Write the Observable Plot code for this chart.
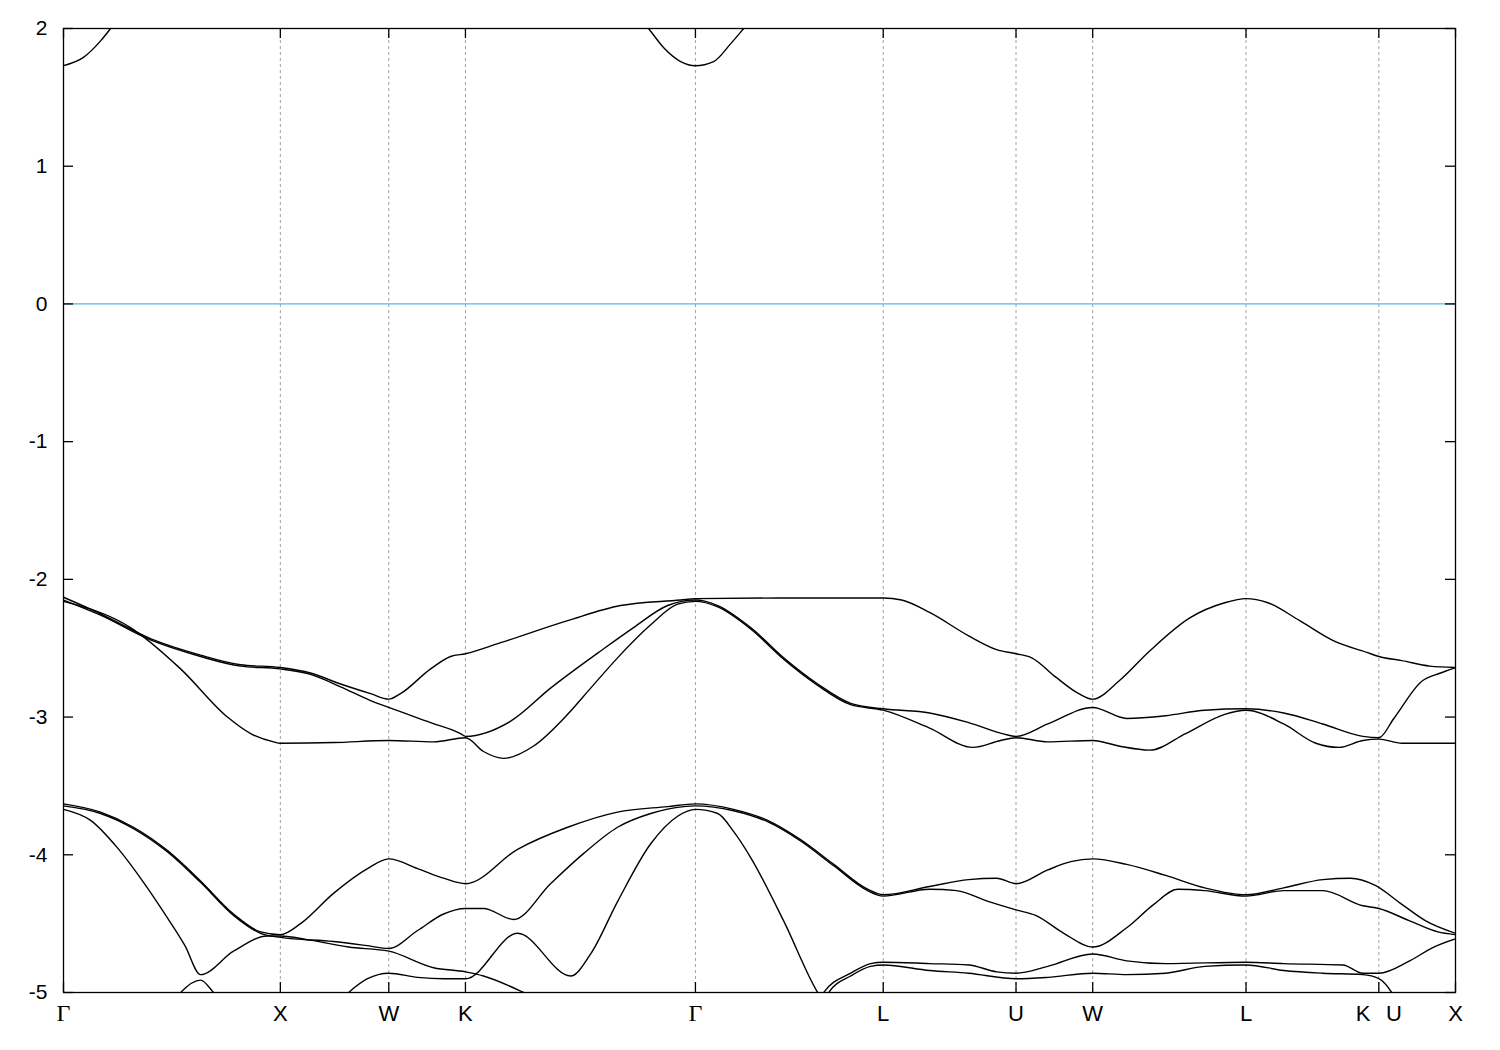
<!DOCTYPE html>
<html><head><meta charset="utf-8">
<script src="https://cdn.jsdelivr.net/npm/d3@7"></script>
<script src="https://cdn.jsdelivr.net/npm/@observablehq/plot@0.6"></script>
<style>body{margin:0;background:#fff}</style>
</head><body><div id="chart"></div>
<script>
// High-symmetry path positions (k) and labels
const kTicks = [0, 1.0, 1.5, 1.8536, 2.9142, 3.7802, 4.3926, 4.7462, 5.4533, 6.0657, 6.4193];
const kLabels = ["Γ", "X", "W", "K", "Γ", "L", "U", "W", "L", "K\u2002\u2009U", "X"];
const eTicks = [2, 1, 0, -1, -2, -3, -4, -5];

// Bands: [k, E (eV)]
const cond1 = [[0,1.73],[0.092,1.79],[0.171,1.91],[0.217,2.0],[0.26,2.09]];
const cond2 = [[2.65,2.09],[2.698,2.0],[2.768,1.86],[2.846,1.76],[2.914,1.73],[2.998,1.76],[3.077,1.89],[3.137,2.0],[3.18,2.08]];

const band1 = [[0,-2.13],[0.171,-2.25],[0.401,-2.43],[0.632,-2.55],[0.816,-2.62],[1.0,-2.64],[1.139,-2.68],[1.278,-2.76],[1.416,-2.83],[1.5,-2.87],[1.554,-2.83],[1.693,-2.65],[1.785,-2.56],[1.854,-2.54],[2.016,-2.46],[2.325,-2.30],[2.569,-2.19],[2.846,-2.15],[2.914,-2.14],[3.3,-2.135],[3.78,-2.135],[3.865,-2.15],[3.994,-2.24],[4.174,-2.41],[4.303,-2.51],[4.393,-2.54],[4.465,-2.57],[4.576,-2.71],[4.682,-2.83],[4.746,-2.87],[4.866,-2.74],[5.009,-2.52],[5.194,-2.28],[5.355,-2.17],[5.453,-2.14],[5.554,-2.17],[5.701,-2.30],[5.863,-2.45],[6.010,-2.53],[6.066,-2.56],[6.172,-2.59],[6.301,-2.63],[6.419,-2.64]];
const band2 = [[0,-2.15],[0.171,-2.26],[0.401,-2.44],[0.632,-2.56],[0.816,-2.63],[1.0,-2.65],[1.139,-2.69],[1.278,-2.78],[1.416,-2.88],[1.5,-2.93],[1.693,-3.04],[1.831,-3.12],[1.854,-3.14],[2.062,-3.03],[2.246,-2.79],[2.477,-2.52],[2.629,-2.35],[2.786,-2.19],[2.914,-2.15],[3.017,-2.19],[3.169,-2.35],[3.321,-2.57],[3.478,-2.76],[3.630,-2.90],[3.78,-2.94],[3.994,-2.97],[4.174,-3.04],[4.354,-3.13],[4.393,-3.14],[4.539,-3.05],[4.746,-2.93],[4.903,-3.01],[5.083,-2.99],[5.263,-2.95],[5.453,-2.94],[5.627,-2.97],[5.807,-3.05],[5.992,-3.14],[6.066,-3.15],[6.135,-3.01],[6.264,-2.74],[6.351,-2.68],[6.419,-2.64]];
const band3 = [[0,-2.16],[0.309,-2.35],[0.540,-2.65],[0.756,-3.0],[0.863,-3.12],[0.969,-3.18],[1.0,-3.19],[1.25,-3.185],[1.5,-3.17],[1.707,-3.18],[1.854,-3.15],[1.937,-3.25],[2.030,-3.30],[2.168,-3.21],[2.325,-2.98],[2.431,-2.79],[2.555,-2.57],[2.708,-2.33],[2.832,-2.18],[2.914,-2.16],[3.017,-2.20],[3.169,-2.36],[3.321,-2.58],[3.478,-2.77],[3.630,-2.91],[3.78,-2.95],[3.994,-3.08],[4.193,-3.22],[4.322,-3.17],[4.393,-3.15],[4.539,-3.18],[4.746,-3.17],[4.866,-3.21],[5.009,-3.24],[5.175,-3.12],[5.355,-2.98],[5.453,-2.95],[5.627,-3.05],[5.775,-3.19],[5.881,-3.22],[5.992,-3.17],[6.066,-3.16],[6.172,-3.19],[6.282,-3.19],[6.419,-3.19]];

const band4 = [[0,-3.63],[0.171,-3.69],[0.323,-3.80],[0.480,-3.97],[0.632,-4.19],[0.784,-4.43],[0.909,-4.56],[1.0,-4.58],[1.093,-4.50],[1.245,-4.28],[1.402,-4.10],[1.5,-4.03],[1.633,-4.10],[1.753,-4.17],[1.854,-4.21],[2.094,-3.96],[2.325,-3.80],[2.555,-3.69],[2.786,-3.65],[2.914,-3.63],[3.090,-3.67],[3.247,-3.75],[3.399,-3.89],[3.552,-4.07],[3.708,-4.25],[3.78,-4.29],[3.994,-4.23],[4.174,-4.18],[4.303,-4.17],[4.393,-4.21],[4.539,-4.11],[4.645,-4.05],[4.746,-4.03],[4.903,-4.07],[5.083,-4.15],[5.263,-4.24],[5.453,-4.29],[5.627,-4.24],[5.807,-4.18],[5.936,-4.17],[6.047,-4.22],[6.172,-4.36],[6.282,-4.48],[6.419,-4.57]];
const band5 = [[0,-3.645],[0.171,-3.70],[0.323,-3.81],[0.480,-3.98],[0.632,-4.20],[0.784,-4.44],[0.909,-4.57],[1.0,-4.60],[1.245,-4.63],[1.402,-4.66],[1.5,-4.68],[1.633,-4.55],[1.753,-4.43],[1.854,-4.39],[1.937,-4.39],[2.076,-4.47],[2.246,-4.21],[2.399,-3.99],[2.555,-3.80],[2.708,-3.70],[2.860,-3.65],[2.914,-3.645],[3.090,-3.68],[3.247,-3.76],[3.399,-3.90],[3.552,-4.08],[3.708,-4.26],[3.78,-4.30],[3.994,-4.25],[4.119,-4.26],[4.267,-4.34],[4.393,-4.40],[4.483,-4.44],[4.613,-4.57],[4.746,-4.67],[4.903,-4.53],[5.028,-4.36],[5.138,-4.25],[5.263,-4.26],[5.453,-4.30],[5.627,-4.26],[5.807,-4.26],[5.992,-4.37],[6.066,-4.39],[6.208,-4.48],[6.338,-4.56],[6.419,-4.58]];
const band6 = [[0,-3.67],[0.125,-3.75],[0.249,-3.95],[0.369,-4.20],[0.480,-4.46],[0.560,-4.66],[0.632,-4.87],[0.784,-4.70],[0.941,-4.59],[1.0,-4.59],[1.139,-4.62],[1.315,-4.67],[1.5,-4.70],[1.707,-4.82],[1.854,-4.85],[1.937,-4.88],[2.122,-5.0],[2.25,-5.1]];
const band7 = [[0.49,-5.1],[0.540,-5.0],[0.632,-4.91],[0.692,-5.0],[0.75,-5.1]];
const band8 = [[1.25,-5.1],[1.315,-5.0],[1.402,-4.90],[1.5,-4.86],[1.633,-4.89],[1.753,-4.90],[1.854,-4.90],[2.094,-4.57],[2.339,-4.88],[2.431,-4.72],[2.555,-4.34],[2.708,-3.92],[2.832,-3.72],[2.914,-3.67],[3.017,-3.70],[3.090,-3.83],[3.169,-4.02],[3.321,-4.48],[3.478,-5.0],[3.52,-5.1]];
const band9 = [[3.48,-5.1],[3.506,-5.0],[3.630,-4.86],[3.722,-4.79],[3.78,-4.78],[3.994,-4.79],[4.174,-4.80],[4.303,-4.85],[4.393,-4.86],[4.539,-4.81],[4.746,-4.72],[4.903,-4.77],[5.083,-4.79],[5.453,-4.78],[5.627,-4.79],[5.900,-4.80],[5.992,-4.86],[6.066,-4.86],[6.208,-4.77],[6.319,-4.67],[6.419,-4.61]];
const band10 = [[3.50,-5.1],[3.529,-5.0],[3.630,-4.88],[3.722,-4.81],[3.78,-4.80],[3.994,-4.84],[4.174,-4.86],[4.393,-4.90],[4.539,-4.89],[4.746,-4.86],[4.903,-4.87],[5.083,-4.86],[5.263,-4.81],[5.453,-4.80],[5.627,-4.84],[5.807,-4.86],[5.992,-4.87],[6.066,-4.90],[6.125,-5.0],[6.16,-5.1]];

const bandSeries = {cond1, cond2, band1, band2, band3, band4, band5, band6, band7, band8, band9, band10};
const table = Object.entries(bandSeries).flatMap(([name, pts]) => pts.map(([k, e]) => ({band: name, k, e})));

const W = 1500, H = 1050, mL = 63, mR = 45, mT = 28, mB = 58;
const innerW = W - mL - mR, innerH = H - mT - mB;
const idx = kTicks.map((_, i) => i);
const gammaIdx = idx.filter(i => kLabels[i] === "Γ");
const otherIdx = idx.filter(i => kLabels[i] !== "Γ");

const chart = Plot.plot({
  width: W, height: H,
  marginLeft: mL, marginRight: mR, marginTop: mT, marginBottom: mB,
  x: {domain: [0, 6.4193], axis: null},
  y: {domain: [-5, 2], axis: null},
  style: {fontFamily: "'Liberation Sans', Arial, sans-serif", background: "white", color: "black"},
  marks: [
    Plot.ruleX(kTicks.slice(1, -1), {stroke: "#a0a0a0", strokeDasharray: "3,3", strokeWidth: 1}),
    Plot.ruleY([0], {stroke: "#56b4e9", strokeWidth: 1.3}),
    Plot.line(table, {x: "k", y: "e", z: "band", curve: "monotone-x", stroke: "black", strokeWidth: 1.4, clip: true}),
    Plot.frame({stroke: "black", strokeWidth: 1.3}),
    Plot.tickX(kTicks, {x: d => d, insetBottom: innerH - 10, stroke: "black", strokeWidth: 1.3}),
    Plot.tickX(kTicks, {x: d => d, insetTop: innerH - 10, stroke: "black", strokeWidth: 1.3}),
    Plot.tickY(eTicks, {y: d => d, insetRight: innerW - 10, stroke: "black", strokeWidth: 1.3}),
    Plot.tickY(eTicks, {y: d => d, insetLeft: innerW - 10, stroke: "black", strokeWidth: 1.3}),
    Plot.text(eTicks, {y: d => d, text: d => String(d), frameAnchor: "left", dx: -16, textAnchor: "end", fontSize: 21, fill: "black"}),
    Plot.text(otherIdx, {x: i => kTicks[i], text: i => kLabels[i], frameAnchor: "bottom", dy: 28, fontSize: 22, fill: "black"}),
    Plot.text(gammaIdx, {x: i => kTicks[i], text: i => kLabels[i], frameAnchor: "bottom", dy: 28, fontSize: 24, fill: "black", fontFamily: "'Liberation Serif', 'DejaVu Serif', serif"})
  ]
});
document.getElementById("chart").appendChild(chart);
</script>
</body></html>
